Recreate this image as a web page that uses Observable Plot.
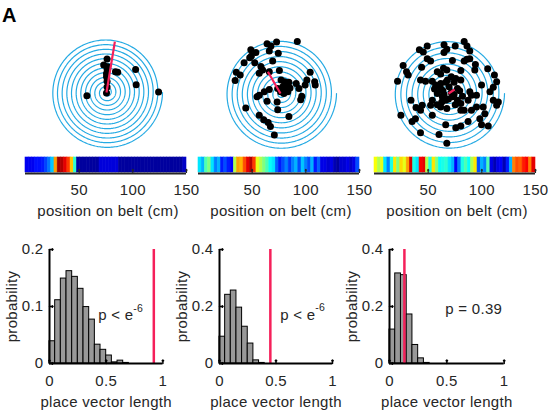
<!DOCTYPE html>
<html><head><meta charset="utf-8">
<script src="https://cdn.jsdelivr.net/npm/d3@7"></script>
<script src="https://cdn.jsdelivr.net/npm/@observablehq/plot@0.6"></script>
<style>
body{margin:0;background:#fff;}
#root{position:relative;width:548px;height:410px;overflow:hidden;background:#fff;}
.panel-letter{position:absolute;left:2px;top:5px;font:bold 20px/20px "Liberation Sans",Arial,sans-serif;color:#000;}
</style></head><body><div id="root"><div class="panel-letter">A</div></div>
<script>
// ---------------- data ----------------
const laps = [12, 11, 10];                // number of laps (spiral turns) per cell
const placeVectorPos = [33.6, 50, 14];    // direction of place vector (cm on belt)
const placeVectorLen = [0.92, 0.45, 0.13];// place vector length
const beltTicks = [50, 100, 150];
const histXTicks = [0, 0.5, 1];
const histYMax = [0.2, 0.4, 0.4];
const histYTicks = [[0, 0.1, 0.2], [0, 0.2, 0.4], [0, 0.2, 0.4]];
const pText = ["p < e", "p < e", "p = 0.39"];
const pSup = ["-6", "-6", ""];
const pTextX = [0.43, 0.537, 0.486];
const pTextY = [0.084, 0.17, 0.19];

// event positions on spiral (normalized, spiral radius = 1)
const dots1 = [[0,-0.01],[0.01,0.1],[0.01,0.2],[0,0.28],[0,0.34],[0.01,0.42],[0.02,0.46],[0.01,0.6],[-0.05,0.49],[0.16,0.37],[0.2,0.36],[0.52,0.41],[0.53,0.14],[0.93,0.01],[-0.35,-0.06]];
const dots2 = [[0.30,0.93],[-0.24,0.89],[-0.17,0.85],[-0.07,0.92],[-0.20,0.76],[-0.04,0.72],[-0.53,0.78],[-0.44,0.73],[-0.55,0.64],[-0.52,0.67],[-0.65,0.55],[-0.46,0.55],[-0.14,0.58],[-0.35,0.48],[-0.79,0.38],[-0.72,0.33],[-0.81,0.23],[-0.32,0.42],[-0.38,0.36],[-0.20,0.39],[-0.02,0.41],[0.53,0.38],[0.01,0.24],[0.07,0.21],[0.04,0.12],[0.12,0.09],[-0.05,0.09],[0.28,0.18],[0.33,0.09],[0.44,0.15],[0.47,0.24],[0.61,0.21],[0.62,0.15],[-0.20,0.07],[-0.29,0.03],[-0.38,-0.03],[-0.42,-0.06],[-0.24,-0.14],[-0.06,-0.15],[0.38,-0.05],[0.36,-0.11],[-0.62,-0.26],[-0.05,-0.29],[-0.38,-0.39],[-0.30,-0.47],[-0.22,-0.52],[-0.18,-0.59],[0.15,-0.41],[-0.11,-0.74],[0.1,0.18],[0.13,0.03],[0.0,0.03],[0.08,0.14],[0.15,0.2],[0.06,0.0],[0.17,0.1]];
const dots3 = [[0.28,0.93],[0.33,0.85],[0.38,0.76],[-0.38,0.85],[-0.08,0.87],[0.12,0.85],[-0.03,0.79],[-0.52,0.78],[-0.45,0.74],[-0.08,0.73],[-0.38,0.62],[-0.32,0.58],[0.07,0.59],[0.33,0.61],[0.28,0.58],[0.38,0.62],[-0.81,0.50],[-0.75,0.39],[-0.72,0.33],[-0.48,0.47],[-0.09,0.45],[-0.03,0.42],[-0.20,0.39],[-0.14,0.35],[0.22,0.41],[0.48,0.52],[0.47,0.42],[0.70,0.44],[0.82,0.33],[-0.91,0.22],[-0.50,0.24],[-0.41,0.22],[-0.29,0.22],[-0.23,0.15],[-0.14,0.18],[0.13,0.27],[0.22,0.24],[-0.02,0.24],[0.86,0.21],[0.80,0.11],[0.74,0.03],[0.59,0.15],[0.50,-0.03],[0.41,-0.03],[0.38,0.03],[-0.14,0.09],[0.01,0.12],[0.16,0.09],[-0.20,0.00],[-0.11,-0.06],[-0.05,-0.12],[0.07,-0.06],[0.16,-0.12],[-0.29,-0.12],[-0.32,-0.21],[-0.67,-0.12],[-0.47,-0.21],[-0.58,-0.25],[-0.50,-0.30],[-0.14,-0.24],[-0.03,-0.27],[0.22,-0.18],[0.35,-0.12],[0.28,-0.30],[0.22,-0.30],[0.41,-0.30],[0.50,-0.24],[0.80,-0.12],[0.86,-0.21],[0.62,-0.24],[0.65,-0.36],[0.56,-0.45],[0.59,-0.56],[0.71,-0.58],[0.35,-0.50],[0.22,-0.58],[0.13,-0.61],[-0.05,-0.56],[-0.17,-0.73],[-0.50,-0.70],[-0.59,-0.45],[-0.65,-0.50],[-0.85,-0.39],[-0.29,-0.39],[0.89,-0.15],[-0.03,-0.89],[-0.1,0.05],[0.05,0.02],[-0.05,0.2],[0.1,0.2],[0.2,0.05],[-0.2,-0.2],[0.0,-0.1],[-0.12,-0.15],[0.12,-0.2],[0.25,-0.05],[-0.25,0.08],[0.05,0.3],[-0.08,-0.02],[0.1,-0.02]];

// place-field activity along the belt (3 cm bins, jet colormap 0..1)
const heat1 = [0.11,0.11,0.11,0.14,0.14,0.15,0.19,0.24,0.32,0.72,0.97,0.95,0.9,0.82,0.68,0.42,0.03,0.03,0.03,0.03,0.03,0.03,0.03,0.09,0.09,0.09,0.09,0.09,0.09,0.03,0.03,0.03,0.03,0.03,0.03,0.03,0.03,0.03,0.03,0.03,0.03,0.03,0.03,0.03,0.03,0.03,0.03,0.03,0.03,0.07];
const heat2 = [0.35,0.3,0.45,0.5,0.35,0.25,0.3,0.15,0.2,0.15,0.12,0.55,0.72,0.7,0.8,0.9,0.95,0.82,0.6,0.55,0.5,0.45,0.38,0.35,0.22,0.15,0.2,0.25,0.18,0.25,0.3,0.2,0.32,0.25,0.2,0.3,0.15,0.22,0.1,0.1,0.08,0.1,0.05,0.03,0.08,0.08,0.1,0.07,0.1,0.2];
const heat3 = [0.62,0.55,0.6,0.35,0.25,0.4,0.65,0.5,0.66,0.6,0.72,0.92,0.4,0.35,0.88,0.9,0.55,0.4,0.65,0.5,0.38,0.4,0.42,0.35,0.3,0.12,0.25,0.4,0.45,0.38,0.55,0.65,0.2,0.3,0.25,0.45,0.1,0.05,0.1,0.12,0.05,0.15,0.3,0.75,0.8,0.78,0.85,0.88,0.75,0.9];

// shuffled place-vector-length distributions (0.05 bins from 0 to 1)
const hist1 = [0.039,0.111,0.149,0.162,0.152,0.131,0.099,0.077,0.033,0.024,0.014,0.002,0.005,0.001,0,0,0,0,0,0];
const hist2 = [0.094,0.241,0.256,0.196,0.129,0.07,0.011,0.002,0,0,0,0,0,0,0,0,0,0,0,0];
const hist3 = [0.119,0.316,0.31,0.172,0.065,0.018,0.002,0,0,0,0,0,0,0,0,0,0,0,0,0];

// ---------------- drawing ----------------
const dots = [dots1, dots2, dots3];
const heats = [heat1, heat2, heat3];
const hists = [hist1, hist2, hist3];
const RED = "#F5205A";
const SPIRAL = "#25AAE3";
const jet = d3.piecewise(d3.interpolateRgb, ["#000080","#0000ff","#0080ff","#00ffff","#80ff80","#ffff00","#ff8000","#ff0000","#800000"]);
const baseStyle = {background: "transparent", overflow: "visible", fontFamily: '"Liberation Sans", Arial, Helvetica, sans-serif', fontSize: "15px", color: "#262626", letterSpacing: "0.3px"};
const root = document.getElementById("root");
function place(el, left, top) {
  el.style.position = "absolute";
  el.style.left = left + "px";
  el.style.top = top + "px";
  el.style.maxWidth = "none";
  root.appendChild(el);
}

function spiralPoints(n) {
  const pts = [];
  const steps = n * 240;
  for (let i = 0; i <= steps; i++) {
    const t = i / steps;
    const th = 2 * Math.PI * n * t;
    pts.push({x: t * Math.cos(th), y: t * Math.sin(th)});
  }
  return pts;
}

function spiralPanel(k, cx, cy) {
  const S = 70, R = 56, a = S / R;
  const ang = placeVectorPos[k] / 150 * 2 * Math.PI;
  const vec = [{x1: 0, y1: 0, x2: placeVectorLen[k] * Math.cos(ang), y2: placeVectorLen[k] * Math.sin(ang)}];
  const svg = Plot.plot({
    width: 2 * S, height: 2 * S, margin: 0,
    x: {domain: [-a, a], axis: null}, y: {domain: [-a, a], axis: null},
    style: baseStyle,
    marks: [
      Plot.line(spiralPoints(laps[k]), {x: "x", y: "y", stroke: SPIRAL, strokeWidth: 1.2}),
      Plot.dot(dots[k], {x: d => d[0], y: d => d[1], r: 3.5, fill: "black", stroke: "none"}),
      Plot.link(vec, {x1: "x1", y1: "y1", x2: "x2", y2: "y2", stroke: RED, strokeWidth: 2.2})
    ]
  });
  place(svg, cx - S, cy - S);
}

function heatPanel(k, x0) {
  const W = 161, mL = 22, mR = 22, mT = 7, H = 15, svgH = 75, top = 150;
  const bins = heats[k].map((v, i) => ({x1: i * 3, x2: i * 3 + 3, v}));
  const svg = Plot.plot({
    width: W + mL + mR, height: svgH,
    marginLeft: mL, marginRight: mR, marginTop: mT, marginBottom: svgH - mT - H,
    x: {domain: [0, 150], axis: null}, y: {domain: [0, 1], axis: null},
    color: {type: "linear", domain: [0, 1], interpolate: jet},
    style: baseStyle,
    marks: [
      Plot.rect(bins, {x1: "x1", x2: "x2", y1: 0, y2: 1, fill: "v", stroke: "v", strokeWidth: 0.6}),
      Plot.ruleY([0], {stroke: "#262626", strokeWidth: 2, dy: 1}),
      Plot.vector(beltTicks, {x: d => d, y: 0, length: 3, anchor: "start", stroke: "#262626", strokeWidth: 1.2}),
      Plot.text(beltTicks, {x: d => d, y: 0, dy: 18, text: d => String(d), fontSize: 15}),
      Plot.text(["position on belt (cm)"], {frameAnchor: "bottom", lineAnchor: "middle", textAnchor: "middle", dy: 39, dx: 2, fontSize: 15})
    ]
  });
  place(svg, x0 - mL, top);
}

function histPanel(k, ax0, ax1) {
  const y0 = 249.3, y1 = 363.3, mL = 49, mR = 12, mT = 14, mB = 46;
  const bins = hists[k].map((v, i) => ({x1: i * 0.05, x2: (i + 1) * 0.05, v})).filter(d => d.v > 0);
  const svg = Plot.plot({
    width: (ax1 - ax0) + mL + mR, height: (y1 - y0) + mT + mB,
    marginLeft: mL, marginRight: mR, marginTop: mT, marginBottom: mB,
    x: {domain: [0, 1], axis: null}, y: {domain: [0, histYMax[k]], axis: null},
    style: baseStyle,
    marks: [
      Plot.rect(bins, {x1: "x1", x2: "x2", y1: 0, y2: "v", fill: "#999999", stroke: "black", strokeWidth: 1}),
      Plot.ruleX([placeVectorLen[k]], {stroke: RED, strokeWidth: 2.5}),
      Plot.ruleX([0], {stroke: "black", strokeWidth: 2}),
      Plot.ruleY([0], {stroke: "black", strokeWidth: 2}),
      Plot.vector(histXTicks, {x: d => d, y: 0, length: 3.5, anchor: "start", stroke: "black", strokeWidth: 1.5}),
      Plot.vector(histYTicks[k], {x: 0, y: d => d, length: 3.5, rotate: 90, anchor: "start", stroke: "black", strokeWidth: 1.5}),
      Plot.text(histXTicks, {x: d => d, y: 0, dy: 18, text: d => String(d), fontSize: 15}),
      Plot.text(histYTicks[k], {x: 0, y: d => d, dx: -6, textAnchor: "end", text: d => String(d), fontSize: 15}),
      Plot.text(["probability"], {frameAnchor: "left", textAnchor: "middle", lineAnchor: "middle", rotate: -90, dx: -37, fontSize: 15}),
      Plot.text(["place vector length"], {frameAnchor: "bottom", textAnchor: "middle", lineAnchor: "middle", dy: 38.5, fontSize: 15}),
      Plot.text([pText[k]], {x: pTextX[k], y: pTextY[k], text: d => d, textAnchor: "start", fontSize: 15}),
      Plot.text([pSup[k]], {x: pTextX[k], y: pTextY[k], text: d => d, textAnchor: "start", dx: 35, dy: -7, fontSize: 10.5})
    ]
  });
  place(svg, ax0 - mL, y0 - mT);
}

spiralPanel(0, 106, 91.5);
spiralPanel(1, 279.5, 93);
spiralPanel(2, 447.5, 93);
heatPanel(0, 25);
heatPanel(1, 198);
heatPanel(2, 373.5);
histPanel(0, 49.3, 162.7);
histPanel(1, 219.3, 332.3);
histPanel(2, 389.3, 504);
</script></body></html>
